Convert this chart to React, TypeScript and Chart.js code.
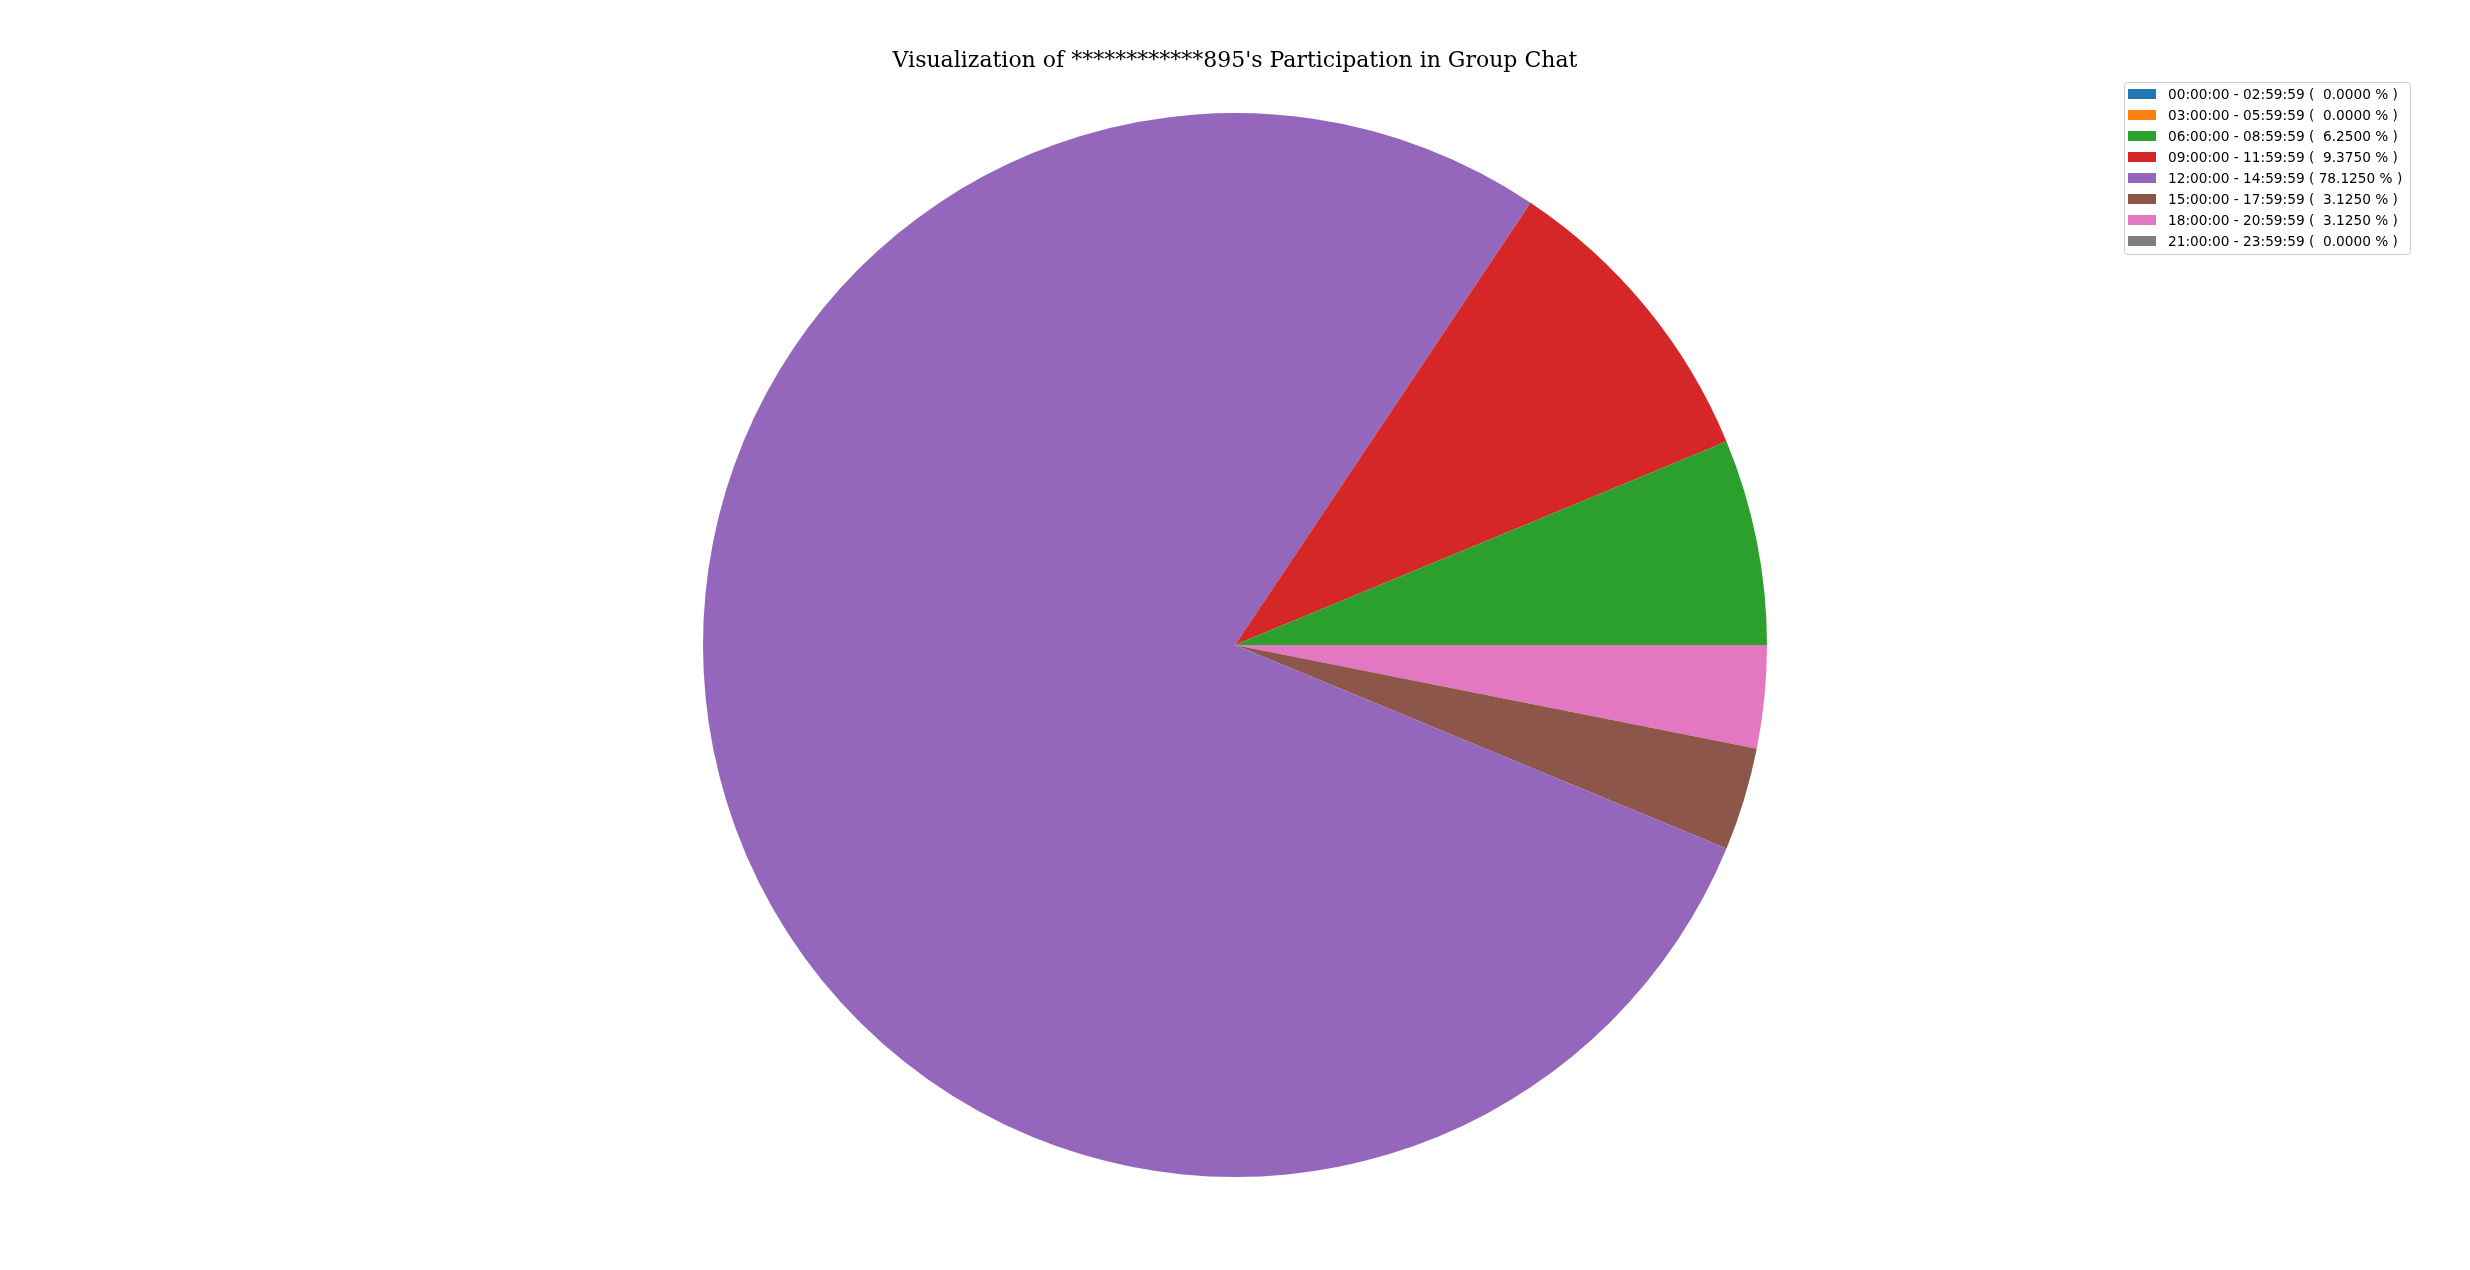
import React, { useEffect, useRef } from 'react';
import { Chart, registerables } from 'chart.js';

Chart.register(...registerables);

// values
const timeRanges = [
    '00:00:00 - 02:59:59',
    '03:00:00 - 05:59:59',
    '06:00:00 - 08:59:59',
    '09:00:00 - 11:59:59',
    '12:00:00 - 14:59:59',
    '15:00:00 - 17:59:59',
    '18:00:00 - 20:59:59',
    '21:00:00 - 23:59:59',
];
const percentages = [0, 0, 6.25, 9.375, 78.125, 3.125, 3.125, 0];
const sliceColors = ['#1f77b4', '#ff7f0e', '#2ca02c', '#d62728', '#9467bd', '#8c564b', '#e377c2', '#7f7f7f'];
const chartTitle = "Visualization of ************895's Participation in Group Chat";

const legendLabels = timeRanges.map(
    (r, i) => `${r} ( ${percentages[i].toFixed(4).padStart(7, ' ')} % )`
);

// matplotlib draws counter-clockwise from 3 o'clock, Chart.js clockwise: reverse the order
const pieValues = [...percentages].reverse();
const pieColors = [...sliceColors].reverse();
const pieLabels = [...legendLabels].reverse();

const overlayPlugin = {
    id: 'overlay',
    afterDraw(chart: Chart) {
        const ctx = chart.ctx;
        ctx.save();

        // title
        ctx.fillStyle = '#000';
        ctx.font = '22px "DejaVu Serif"';
        ctx.textAlign = 'center';
        ctx.textBaseline = 'alphabetic';
        ctx.fillText(chartTitle, 1235, 67);

        // legend box
        const boxX = 2124, boxY = 82, boxW = 286, boxH = 172;
        ctx.beginPath();
        ctx.roundRect(boxX + 0.5, boxY + 0.5, boxW, boxH, 3);
        ctx.fillStyle = 'rgba(255,255,255,0.8)';
        ctx.fill();
        ctx.strokeStyle = '#cccccc';
        ctx.lineWidth = 1;
        ctx.stroke();

        ctx.font = '13.7px "DejaVu Sans"';
        ctx.textAlign = 'left';
        ctx.textBaseline = 'middle';
        legendLabels.forEach((label, i) => {
            const cy = 94 + i * 21;
            ctx.fillStyle = sliceColors[i];
            ctx.fillRect(2128, cy - 5, 28, 10);
            ctx.fillStyle = '#000';
            ctx.fillText(label, 2168, cy + 1);
        });

        ctx.restore();
    },
};

const App: React.FC = () => {
    const canvasRef = useRef<HTMLCanvasElement | null>(null);
    const chartRef = useRef<Chart | null>(null);

    useEffect(() => {
        if (!canvasRef.current) return;
        if (chartRef.current) chartRef.current.destroy();

        chartRef.current = new Chart(canvasRef.current, {
            type: 'pie',
            data: {
                labels: pieLabels,
                datasets: [{
                    data: pieValues,
                    backgroundColor: pieColors,
                    borderWidth: 0,
                }],
            },
            options: {
                animation: false,
                responsive: false,
                devicePixelRatio: 1,
                rotation: 90,
                layout: { padding: { top: 113, bottom: 93, left: 0, right: 0 } },
                plugins: {
                    legend: { display: false },
                    title: { display: false },
                    tooltip: { enabled: false },
                },
            },
            plugins: [overlayPlugin],
        });

        return () => {
            if (chartRef.current) {
                chartRef.current.destroy();
                chartRef.current = null;
            }
        };
    }, []);

    return (
        <div style={{ position: 'fixed', left: 0, top: 0, width: 2470, height: 1270, background: '#fff' }}>
            <canvas ref={canvasRef} width="2470" height="1270"></canvas>
        </div>
    );
};

export default App;
